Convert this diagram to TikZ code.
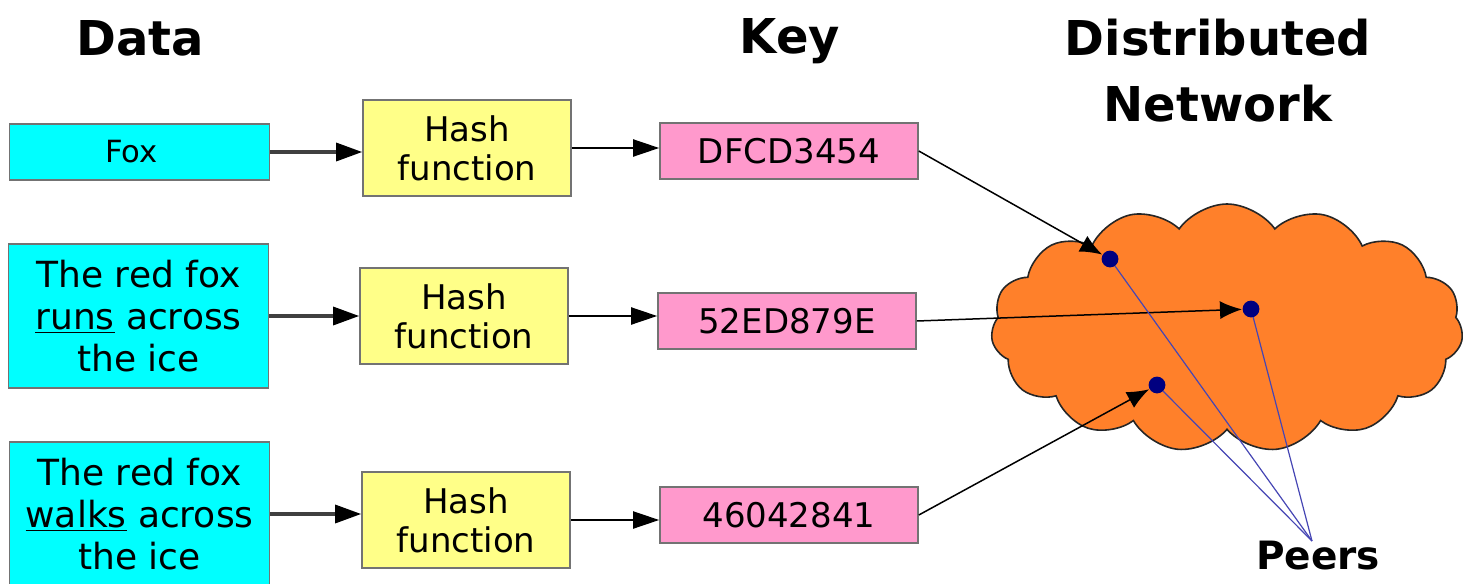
\documentclass[tikz,border=0pt]{standalone}
\usepackage{fontspec}
\setmainfont{DejaVu Sans}
\usetikzlibrary{shapes.symbols,arrows.meta}
\definecolor{datacyan}{RGB}{0,255,255}
\definecolor{hashyellow}{RGB}{255,255,136}
\definecolor{keypink}{RGB}{255,153,204}
\definecolor{cloudorange}{RGB}{255,128,42}
\definecolor{peernavy}{RGB}{0,0,128}
\definecolor{peerblue}{RGB}{70,70,180}
\newcommand{\fsz}[2]{\fontsize{#1}{#2}\selectfont}
\begin{document}
\begin{tikzpicture}[x=0.5pt, y=-0.5pt,
    box/.style={draw=black!55, line width=0.8pt, align=center, inner sep=0pt},
    databox/.style={box, fill=datacyan, minimum width=130pt},
    hashbox/.style={box, fill=hashyellow, minimum width=104pt, minimum height=48pt, font=\fsz{17pt}{19.5pt}},
    keybox/.style={box, fill=keypink, minimum width=129pt, minimum height=28pt, font=\fsz{17pt}{20pt}},
    title/.style={align=center, font=\bfseries\fsz{24pt}{33pt}},
    feed/.style={draw=black!75, line width=1.6pt, -{Triangle[length=13pt,width=9pt,color=black]}},
    pass/.style={line width=1pt, -{Triangle[length=13pt,width=8.5pt]}},
    link/.style={line width=0.75pt, -{Latex[length=11pt,width=9pt]}, shorten >=4.5pt},
    peerline/.style={draw=peerblue, line width=0.6pt}]
    \useasboundingbox (0,0) rectangle (1463,584);
    % column titles
    \node[title] (tdata) at (140,38) {Data};
    \node[title] (tkey) at (790,41) {Key};
    \node[title] (tnet) at (1218,71) {Distributed\\Network};
    % data
    \node[databox, minimum height=28pt, font=\fsz{15.3pt}{18pt}] (d1) at (139.5,152) {\hspace*{-8pt}Fox};
    \node[databox, minimum height=72pt, font=\fsz{18pt}{21pt}] (d2) at (138.5,316)
        {The red fox\\\underline{runs} across\\the ice};
    \node[databox, minimum height=72pt, font=\fsz{18pt}{21pt}] (d3) at (139.5,514)
        {The red fox\\\underline{walks} across\\the ice};
    % hash functions
    \node[hashbox] (h1) at (467,148) {Hash\\function};
    \node[hashbox] (h2) at (464,316) {Hash\\function};
    \node[hashbox] (h3) at (466,520) {Hash\\function};
    % keys
    \node[keybox] (k1) at (789,151) {DFCD3454};
    \node[keybox] (k2) at (787,321) {52ED879E};
    \node[keybox] (k3) at (789,515) {46042841};
    \foreach \i in {1,2,3} {
        \draw[feed] (d\i.east) -- (d\i.east -| h\i.west);
        \draw[pass] (h\i.east) -- (h\i.east -| k\i.west);
        }
    % network
    \node[cloud, cloud puffs=15, cloud puff arc=110, cloud ignores aspect, draw=black!85, line width=0.8pt,
        fill=cloudorange, minimum width=236pt, minimum height=124pt] (net) at (1227,328) {};
    \coordinate (p1) at (1110,259);
    \coordinate (p2) at (1251,309);
    \coordinate (p3) at (1157,385);
    \node[font=\bfseries\fsz{19.5pt}{22pt}] (peers) at (1318,556) {Peers};
    \coordinate (ptip) at (1312,541);
    \draw[link] (k1.east) -- (p1);
    \draw[link] (k2.east) -- (p2);
    \draw[link] (k3.east) -- (p3);
    \foreach \p in {p1,p2,p3} {
        \draw[peerline] (\p) -- (ptip);
        \fill[peernavy] (\p) circle (4.2pt);
        }
\end{tikzpicture}
\end{document}
